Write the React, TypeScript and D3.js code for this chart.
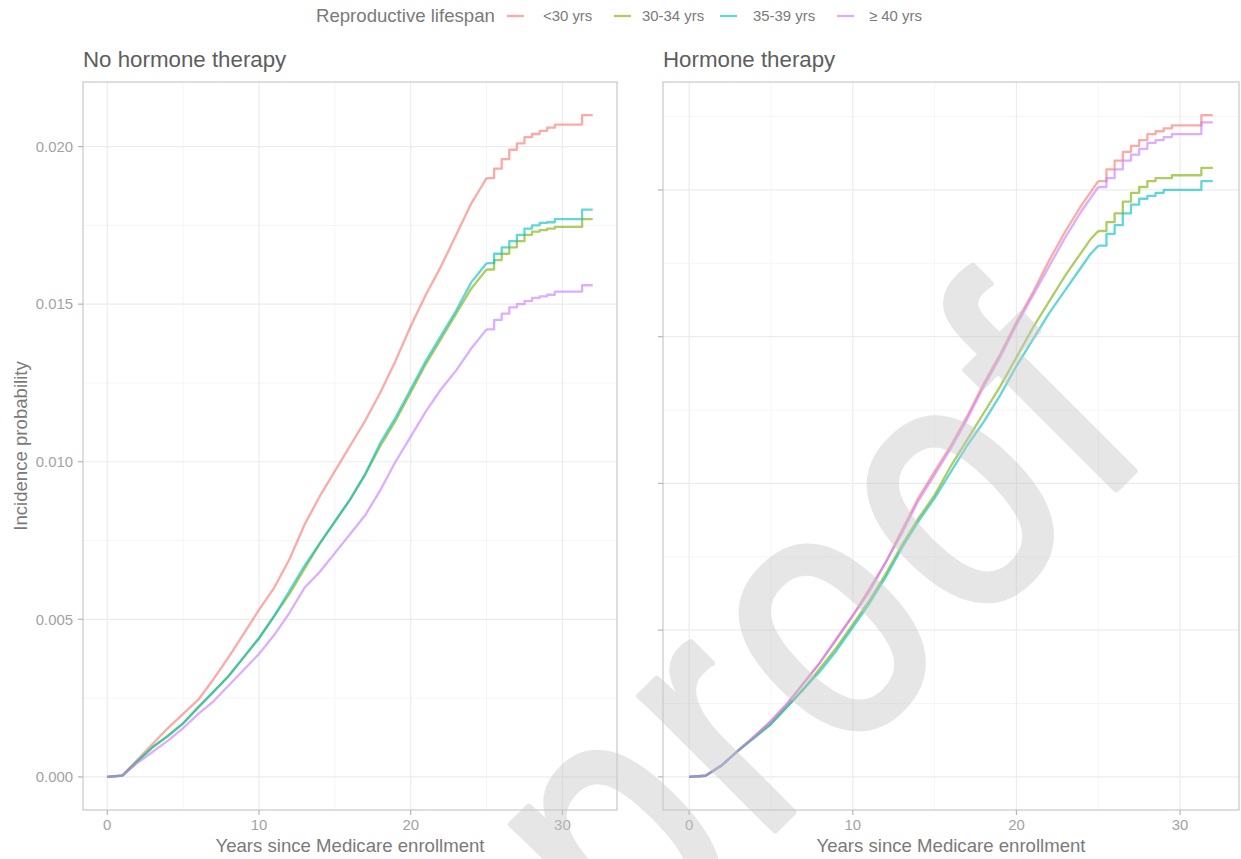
import React from 'react';
import * as d3 from 'd3';

const TIMES = [0,1,2,3,4,5,6,7,8,9,10,11,12,13,14,15,16,17,18,19,20,21,22,23,24,24.5,25,25.5,26,26.5,27,27.5,28,28.5,29,29.5,30,30.5,31,31.3,32];
const STEP_START = 25; // years from which the curve is drawn as a step function

const GROUPS = ['<30 yrs', '30-34 yrs', '35-39 yrs', '\u2265 40 yrs'];
const COLORS = ['#F8766D', '#7CAE00', '#00BFC4', '#C77CFF'];

// No hormone therapy
const NO_HT_LT30 = [0,0.00005,0.00055,0.00105,0.00155,0.002,0.00245,0.0031,0.0038,0.00455,0.0053,0.006,0.0069,0.008,0.0089,0.0097,0.0105,0.0113,0.0122,0.0132,0.0143,0.0153,0.0162,0.0172,0.0182,0.0186,0.019,0.0193,0.0196,0.0199,0.0201,0.0203,0.0204,0.0205,0.0206,0.0207,0.0207,0.0207,0.0207,0.021,0.021];
const NO_HT_30_34 = [0,0.00004,0.0005,0.00095,0.0013,0.0017,0.0022,0.0027,0.0032,0.0038,0.0044,0.0051,0.0058,0.0066,0.0074,0.0081,0.0088,0.0096,0.0105,0.0113,0.0122,0.0131,0.0139,0.0147,0.0155,0.0158,0.0161,0.0164,0.0166,0.0168,0.017,0.0172,0.0173,0.01735,0.0174,0.01745,0.01745,0.01745,0.01745,0.0177,0.0177];
const NO_HT_35_39 = [0,0.00004,0.0005,0.00095,0.0013,0.0017,0.00222,0.0027,0.0032,0.0038,0.0044,0.0051,0.0059,0.0067,0.0074,0.0081,0.0088,0.0096,0.0106,0.0114,0.0123,0.0132,0.014,0.0148,0.0157,0.016,0.0163,0.0166,0.0168,0.017,0.0172,0.0174,0.0175,0.01758,0.0176,0.0177,0.0177,0.0177,0.0177,0.018,0.018];
const NO_HT_GE40 = [0,0.00004,0.00045,0.0008,0.00115,0.00155,0.002,0.0024,0.0029,0.0034,0.0039,0.0045,0.0052,0.006,0.0065,0.0071,0.0077,0.0083,0.0091,0.01,0.0108,0.0116,0.0123,0.0129,0.0136,0.0139,0.0142,0.0145,0.0147,0.0149,0.015,0.0151,0.0152,0.01525,0.0153,0.0154,0.0154,0.0154,0.0154,0.0156,0.0156];

// Hormone therapy
const HT_LT30 = [0,0.00004,0.0004,0.0009,0.0014,0.0019,0.0025,0.0032,0.0039,0.0047,0.0055,0.0064,0.0073,0.0084,0.0095,0.0104,0.0113,0.0123,0.0134,0.0144,0.0155,0.0165,0.0176,0.0186,0.0195,0.0199,0.0203,0.0207,0.021,0.0213,0.0215,0.0217,0.0219,0.022,0.0221,0.0222,0.0222,0.0222,0.0222,0.02255,0.02255];
const HT_30_34 = [0,0.00004,0.0004,0.0009,0.00135,0.0018,0.0024,0.003,0.0037,0.0044,0.0052,0.006,0.0069,0.0079,0.0088,0.0096,0.0106,0.0115,0.0124,0.0133,0.0143,0.0153,0.0162,0.0171,0.0179,0.0183,0.0186,0.0189,0.0192,0.0196,0.0199,0.0201,0.0203,0.0204,0.0204,0.0205,0.0205,0.0205,0.0205,0.02075,0.02075];
const HT_35_39 = [0,0.00004,0.0004,0.0009,0.00135,0.0018,0.0024,0.003,0.0036,0.0043,0.0051,0.0059,0.0068,0.0078,0.0087,0.0095,0.0104,0.0113,0.0121,0.013,0.014,0.0149,0.0158,0.0166,0.0174,0.0178,0.0181,0.0185,0.0188,0.0192,0.0195,0.0197,0.0198,0.0199,0.02,0.02,0.02,0.02,0.02,0.0203,0.0203];
const HT_GE40 = [0,0.00004,0.0004,0.0009,0.00138,0.0019,0.0025,0.0032,0.0039,0.0047,0.0055,0.0063,0.0073,0.0083,0.0094,0.0103,0.0112,0.0122,0.0133,0.0143,0.0154,0.0164,0.0174,0.0184,0.0193,0.0197,0.0201,0.0204,0.0207,0.021,0.0212,0.0214,0.0216,0.0217,0.0218,0.0219,0.0219,0.0219,0.0219,0.0223,0.0223];

const X_MAJOR = [0, 10, 20, 30];
const X_MINOR = [5, 15, 25];
const Y_MAJOR = [0, 0.005, 0.01, 0.015, 0.02];
const Y_MINOR = [0.0025, 0.0075, 0.0125, 0.0175, 0.0225];

const FONT = '"Liberation Sans", Arial, Helvetica, sans-serif';
const PANEL_TOP = 82;
const PANEL_BOTTOM = 810;

type PanelProps = {
  left: number;
  right: number;
  title: string;
  series: number[][];
  showYLabels: boolean;
};

function Panel({ left, right, title, series, showYLabels }: PanelProps) {
  const tMax = d3.max(TIMES) as number;
  const xPad = tMax * 0.05;
  const x = d3.scaleLinear().domain([-xPad, tMax + xPad]).range([left, right]);
  const vMax = d3.max(series.flat()) as number;
  const yPad = vMax * 0.05;
  const y = d3.scaleLinear().domain([-yPad, vMax + yPad]).range([PANEL_BOTTOM, PANEL_TOP]);
  const [d0, d1] = y.domain();

  const pts = (vals: number[]) => TIMES.map((t, i) => [t, vals[i]] as [number, number]);
  const smooth = d3.line<[number, number]>().x(d => x(d[0])).y(d => y(d[1])).curve(d3.curveLinear);
  const step = d3.line<[number, number]>().x(d => x(d[0])).y(d => y(d[1])).curve(d3.curveStepAfter);

  return (
    <g>
      <text x={left} y={67} fontFamily={FONT} fontSize={22.3} fill="#5e5e5e">{title}</text>
      <rect x={left} y={PANEL_TOP} width={right - left} height={PANEL_BOTTOM - PANEL_TOP} fill="#fff" />
      {Y_MINOR.filter(v => v > d0 && v < d1).map(v => (
        <line key={'ym' + v} x1={left} x2={right} y1={y(v)} y2={y(v)} stroke="#f5f5f5" strokeWidth={1} />
      ))}
      {X_MINOR.map(v => (
        <line key={'xm' + v} x1={x(v)} x2={x(v)} y1={PANEL_TOP} y2={PANEL_BOTTOM} stroke="#f5f5f5" strokeWidth={1} />
      ))}
      {Y_MAJOR.map(v => (
        <line key={'yM' + v} x1={left} x2={right} y1={y(v)} y2={y(v)} stroke="#ececec" strokeWidth={1.2} />
      ))}
      {X_MAJOR.map(v => (
        <line key={'xM' + v} x1={x(v)} x2={x(v)} y1={PANEL_TOP} y2={PANEL_BOTTOM} stroke="#ececec" strokeWidth={1.2} />
      ))}
      {series.map((vals, i) => {
        const p = pts(vals);
        const a = p.filter(d => d[0] <= STEP_START);
        const b = p.filter(d => d[0] >= STEP_START);
        return (
          <g key={'s' + i} stroke={COLORS[i]} strokeOpacity={0.62} strokeWidth={2.3} fill="none" strokeLinejoin="round">
            <path d={smooth(a) || ''} />
            <path d={step(b) || ''} />
          </g>
        );
      })}
      <rect x={left} y={PANEL_TOP} width={right - left} height={PANEL_BOTTOM - PANEL_TOP} fill="none" stroke="#cdcdcd" strokeWidth={1.3} />
      {Y_MAJOR.map(v => (
        <g key={'yt' + v}>
          <line x1={left - 5} x2={left} y1={y(v)} y2={y(v)} stroke="#b5b5b5" strokeWidth={1.2} />
          {showYLabels && (
            <text x={left - 10} y={y(v)} dy="0.35em" textAnchor="end" fontFamily={FONT} fontSize={14.9} fill="#a3a3a3">
              {d3.format('.3f')(v)}
            </text>
          )}
        </g>
      ))}
      {X_MAJOR.map(v => (
        <g key={'xt' + v}>
          <line x1={x(v)} x2={x(v)} y1={PANEL_BOTTOM} y2={PANEL_BOTTOM + 5} stroke="#b5b5b5" strokeWidth={1.2} />
          <text x={x(v)} y={830} textAnchor="middle" fontFamily={FONT} fontSize={14.9} fill="#a3a3a3">{v}</text>
        </g>
      ))}
      <text x={(left + right) / 2} y={852} textAnchor="middle" fontFamily={FONT} fontSize={18.6} fill="#7a7a7a">
        Years since Medicare enrollment
      </text>
    </g>
  );
}

const LEGEND_KEYS = [507, 614, 720, 837];
const LEGEND_LABELS = [543, 642, 753, 869];

export default function App() {
  const left = [NO_HT_LT30, NO_HT_30_34, NO_HT_35_39, NO_HT_GE40];
  const right = [HT_LT30, HT_30_34, HT_35_39, HT_GE40];
  return (
    <svg width={1241} height={859} viewBox="0 0 1241 859" style={{ position: 'absolute', left: 0, top: 0, background: '#fff' }}>
      <rect width={1241} height={859} fill="#fff" />
      <text x={316} y={22} fontFamily={FONT} fontSize={18.6} fill="#7a7a7a">Reproductive lifespan</text>
      {GROUPS.map((g, i) => (
        <g key={g}>
          <line x1={LEGEND_KEYS[i]} x2={LEGEND_KEYS[i] + 17} y1={16} y2={16} stroke={COLORS[i]} strokeOpacity={0.62} strokeWidth={2.3} />
          <text x={LEGEND_LABELS[i]} y={21} fontFamily={FONT} fontSize={14.9} fill="#7a7a7a">{g}</text>
        </g>
      ))}
      <text transform="translate(27,446) rotate(-90)" textAnchor="middle" fontFamily={FONT} fontSize={18.6} fill="#7a7a7a">
        Incidence probability
      </text>
      <Panel left={83} right={617} title="No hormone therapy" series={left} showYLabels={true} />
      <Panel left={663} right={1239} title="Hormone therapy" series={right} showYLabels={false} />
      <g opacity={0.45}>
        <text transform="translate(632,973) rotate(-45) scale(0.83,1)" fontFamily={FONT} fontSize={360} fill="#c8c8c8"
          stroke="#c8c8c8" strokeWidth={7} strokeLinejoin="round" letterSpacing={18}>
          proof
        </text>
      </g>
    </svg>
  );
}
